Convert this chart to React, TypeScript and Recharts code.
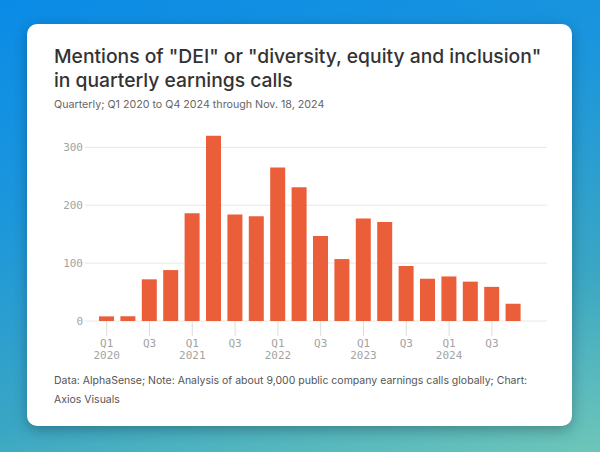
import React from 'react';
import { BarChart, Bar, XAxis, YAxis, CartesianGrid } from 'recharts';

const categories = [
  'Q1 2020', 'Q2 2020', 'Q3 2020', 'Q4 2020',
  'Q1 2021', 'Q2 2021', 'Q3 2021', 'Q4 2021',
  'Q1 2022', 'Q2 2022', 'Q3 2022', 'Q4 2022',
  'Q1 2023', 'Q2 2023', 'Q3 2023', 'Q4 2023',
  'Q1 2024', 'Q2 2024', 'Q3 2024', 'Q4 2024',
];
const mentions = [8, 8, 72, 88, 186, 320, 184, 181, 265, 231, 147, 107, 177, 171, 95, 73, 77, 68, 59, 30];
const yTicks = [0, 100, 200, 300];

const titleLine1 = 'Mentions of "DEI" or "diversity, equity and inclusion"';
const titleLine2 = 'in quarterly earnings calls';
const subtitleText = 'Quarterly; Q1 2020 to Q4 2024 through Nov. 18, 2024';
const footerLine1 = 'Data: AlphaSense; Note: Analysis of about 9,000 public company earnings calls globally; Chart:';
const footerLine2 = 'Axios Visuals';

const data = categories.map((c, i) => ({ cat: c, value: mentions[i] }));

const MONO = '"DejaVu Sans Mono", "Liberation Mono", monospace';
const SANS = 'Inter, "Noto Sans", sans-serif';

const XTick = (props: any) => {
  const { x, y, payload } = props;
  const [q, yr] = String(payload.value).split(' ');
  return (
    <g>
      <text x={x} y={y} dy={9} textAnchor="middle" fill="#a3a3a3" fontFamily={MONO} fontSize={11}>
        {q}
      </text>
      {q === 'Q1' && (
        <text x={x} y={y} dy={21} textAnchor="middle" fill="#a3a3a3" fontFamily={MONO} fontSize={11}>
          {yr}
        </text>
      )}
    </g>
  );
};

export default function App() {
  return (
    <div
      style={{
        position: 'fixed',
        left: 0,
        top: 0,
        width: 600,
        height: 452,
        overflow: 'hidden',
        background: 'linear-gradient(165deg, #0a8be6 0%, #1c96dc 35%, #3aa6c4 70%, #6ec6b8 100%)',
      }}
    >
      <div
        style={{
          position: 'absolute',
          left: 27,
          top: 24,
          width: 545,
          height: 402,
          background: '#fff',
          borderRadius: 10,
          boxShadow: '0 4px 14px rgba(0,0,0,0.28)',
        }}
      />
      <div
        style={{
          position: 'absolute',
          left: 54,
          top: 44,
          fontFamily: SANS,
          fontSize: 19.3,
          fontWeight: 500,
          lineHeight: '24px',
          color: '#333',
          whiteSpace: 'nowrap',
        }}
      >
        {titleLine1}
        <br />
        {titleLine2}
      </div>
      <div
        style={{
          position: 'absolute',
          left: 54,
          top: 98,
          fontFamily: SANS,
          fontSize: 10.7,
          lineHeight: '14px',
          color: '#666',
          whiteSpace: 'nowrap',
        }}
      >
        {subtitleText}
      </div>
      <div
        style={{
          position: 'absolute',
          left: 54,
          top: 372,
          fontFamily: SANS,
          fontSize: 10.5,
          lineHeight: '18.5px',
          color: '#555',
          whiteSpace: 'nowrap',
        }}
      >
        {footerLine1}
        <br />
        {footerLine2}
      </div>
      <div style={{ position: 'absolute', left: 0, top: 0 }}>
        <BarChart
          width={600}
          height={452}
          data={data}
          margin={{ top: 130, right: 53, bottom: 91, left: 0 }}
        >
          <CartesianGrid vertical={false} stroke="#e8e8e8" horizontalValues={yTicks} />
          <XAxis
            dataKey="cat"
            interval={1}
            tick={<XTick />}
            tickLine={{ stroke: '#ddd' }}
            tickSize={15}
            axisLine={false}
            height={40}
            padding={{ left: 11, right: 23 }}
          />
          <YAxis
            width={85}
            domain={[0, 330]}
            ticks={yTicks}
            axisLine={false}
            tickLine={false}
            tickSize={0}
            tickMargin={2}
            tick={{ fill: '#a3a3a3', fontFamily: MONO, fontSize: 11 }}
          />
          <Bar dataKey="value" fill="#EB5E3A" barSize={15} isAnimationActive={false} />
        </BarChart>
      </div>
    </div>
  );
}
